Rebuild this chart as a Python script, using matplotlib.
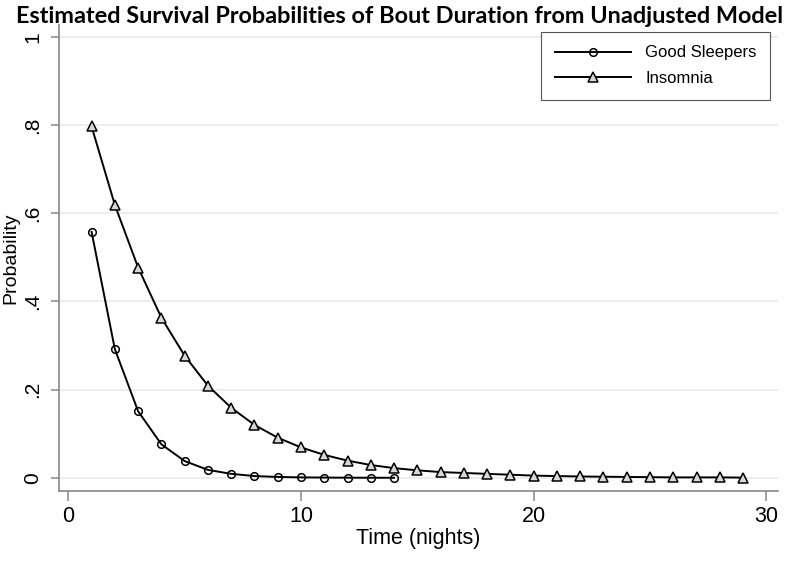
import numpy as np
import matplotlib
matplotlib.use('Agg')
import matplotlib.pyplot as plt

# survival estimates
nights_good = np.arange(1, 15)
good = [0.558, 0.292, 0.151, 0.076, 0.038, 0.018, 0.009, 0.004, 0.002,
        0.001, 0.0006, 0.0003, 0.0002, 0.0001]

nights_ins = np.arange(1, 30)
insomnia = [0.797, 0.619, 0.477, 0.363, 0.277, 0.209, 0.159, 0.120, 0.091,
            0.069, 0.052, 0.039, 0.029, 0.022, 0.017, 0.013, 0.011, 0.009,
            0.007, 0.005, 0.004, 0.003, 0.0025, 0.002, 0.0015, 0.001,
            0.001, 0.001, 0.0005]

yticks = [0, 0.2, 0.4, 0.6, 0.8, 1]
yticklabels = ['0', '.2', '.4', '.6', '.8', '1']
xticks = [0, 10, 20, 30]

plt.rcParams['font.family'] = ['Liberation Sans', 'DejaVu Sans']

fig = plt.figure(figsize=(8, 5.69), dpi=100)
ax = fig.add_axes([0.07375, 0.137, 0.89875, 0.819])

ax.plot(nights_good, good, color='black', lw=1.4, marker='o', ms=5.5,
        mfc='none', mec='black', mew=1.1, label='Good Sleepers', zorder=3)
ax.plot(nights_ins, insomnia, color='black', lw=1.4, marker='^', ms=7,
        mfc='#d8d8d8', mec='black', mew=1.1, label='Insomnia', zorder=3)

ax.set_xlim(-0.4, 30.5)
ax.set_ylim(-0.03, 1.027)
ax.set_yticks(yticks)
ax.set_yticklabels(yticklabels, rotation=90, va='center')
ax.set_xticks(xticks)
ax.grid(axis='y', color='#eaeaea', lw=1.2)
ax.set_axisbelow(True)

for s in ['top', 'right']:
    ax.spines[s].set_visible(False)
for s in ['left', 'bottom']:
    ax.spines[s].set_color('#888888')
    ax.spines[s].set_linewidth(1.2)
ax.tick_params(colors='#888888', labelcolor='black', labelsize=15.5,
               length=7, width=1.1)
ax.tick_params(axis='y', length=6, pad=6, labelsize=15)

ax.set_xlabel('Time (nights)', fontsize=15.5, labelpad=1)
ax.set_ylabel('Probability', fontsize=14, va='center')
ax.yaxis.set_label_coords(-0.0663, 0.5)

leg = ax.legend(loc='upper right', bbox_to_anchor=(0.989, 0.985),
                borderaxespad=0, fontsize=12, numpoints=1, handlelength=4.6,
                fancybox=False, framealpha=1, borderpad=0.8,
                labelspacing=0.65, handletextpad=0.85)
leg.get_frame().set_edgecolor('#555555')
leg.get_frame().set_linewidth(0.8)

fig.text(0.5, 0.99, 'Estimated Survival Probabilities of Bout Duration from Unadjusted Model',
         ha='center', va='top', fontsize=16.9, fontweight='bold',
         family=['Lato', 'DejaVu Sans'])

fig.savefig('out.png', dpi=100)
